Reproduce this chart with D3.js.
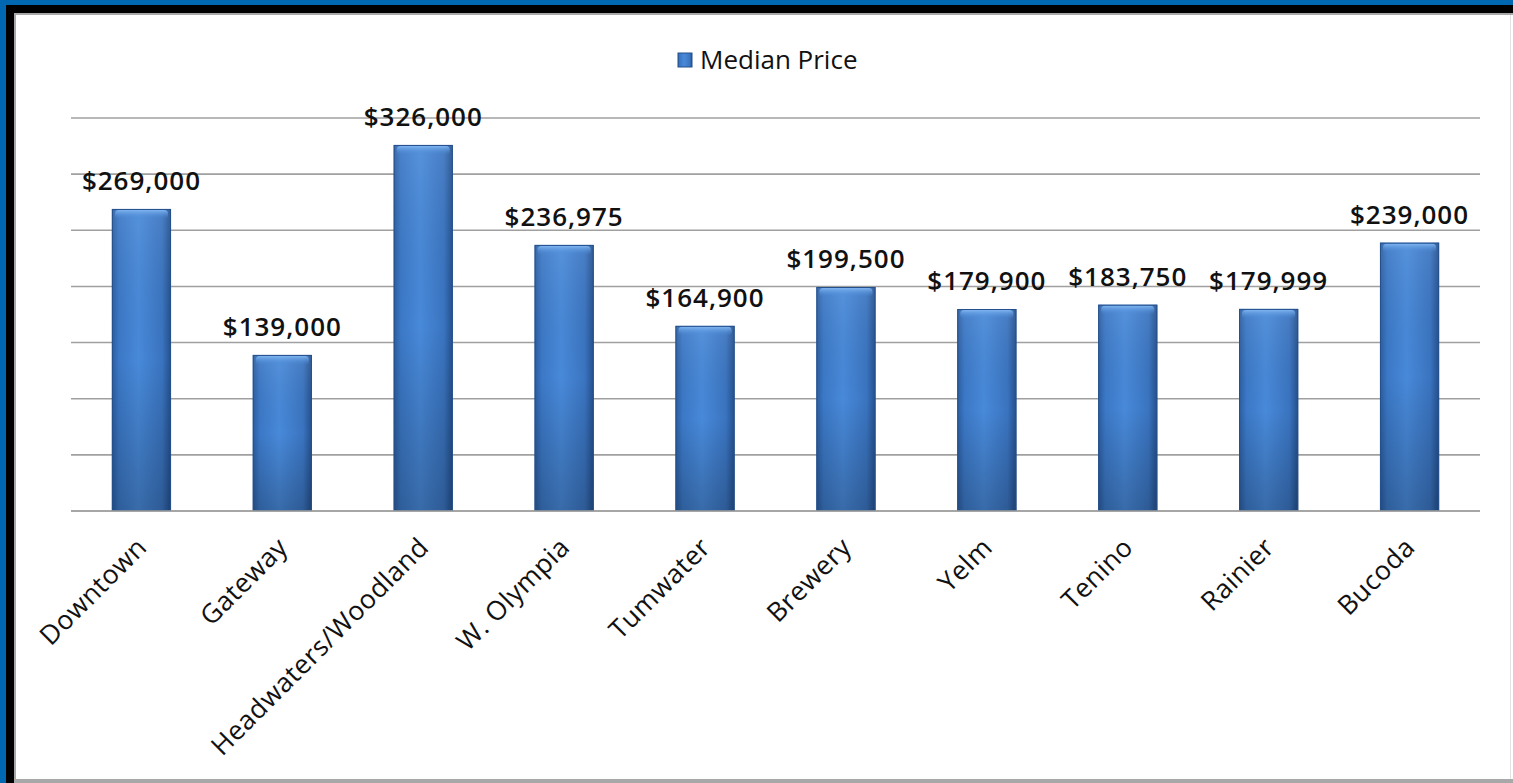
<!DOCTYPE html>
<html><head><meta charset="utf-8">
<script src="https://cdn.jsdelivr.net/npm/d3@7"></script>
<style>html,body{margin:0;padding:0;background:#fff;overflow:hidden}</style>
</head><body>
<svg id="c" width="1513" height="783"></svg>
<script>
const categories = ["Downtown","Gateway","Headwaters/Woodland","W. Olympia","Tumwater","Brewery","Yelm","Tenino","Rainier","Bucoda"];
const medianPrice = [269000,139000,326000,236975,164900,199500,179900,183750,179999,239000];
const seriesName = "Median Price";
const yTicks = [0,50000,100000,150000,200000,250000,300000,350000];

const svg = d3.select("#c");
const W = 1513, H = 783;
const font = "Open Sans, Lato, sans-serif";

// frame
svg.append("rect").attr("x",0).attr("y",0).attr("width",W).attr("height",H).attr("fill","#0067b1");
svg.append("rect").attr("x",6).attr("y",5).attr("width",W-6).attr("height",H-5).attr("fill","#000");
svg.append("rect").attr("x",14).attr("y",13).attr("width",W-14).attr("height",H-13).attr("fill","#a8a8a8");
svg.append("rect").attr("x",16).attr("y",15).attr("width",W-16).attr("height",H-19).attr("fill","#fff");
svg.append("line").attr("x1",1510.5).attr("x2",1510.5).attr("y1",15).attr("y2",H-4).attr("stroke","#e2e2e2").attr("stroke-width",1);

const defs = svg.append("defs");
const gh = defs.append("linearGradient").attr("id","gh").attr("x1","0").attr("x2","1").attr("y1","0").attr("y2","0");
[[0,"#2b5c9e"],[0.12,"#3b78c6"],[0.45,"#4889d9"],[0.85,"#3a74c0"],[1,"#244f8c"]].forEach(s=>gh.append("stop").attr("offset",s[0]).attr("stop-color",s[1]));
const gv = defs.append("linearGradient").attr("id","gv").attr("x1","0").attr("x2","0").attr("y1","0").attr("y2","1");
[[0,"#ffffff",0.08],[0.5,"#000000",0.0],[1,"#000000",0.22]].forEach(s=>gv.append("stop").attr("offset",s[0]).attr("stop-color",s[1]).attr("stop-opacity",s[2]));
const gt = defs.append("linearGradient").attr("id","gt").attr("x1","0").attr("x2","0").attr("y1","0").attr("y2","1");
[[0,"#7fb4ef",1],[1,"#4686d6",0]].forEach(s=>gt.append("stop").attr("offset",s[0]).attr("stop-color",s[1]).attr("stop-opacity",s[2]));

const x = d3.scaleBand().domain(categories).range([71,1480]).paddingInner(0.58).paddingOuter(0.29);
const y = d3.scaleLinear().domain([0,350000]).range([511,118]);

// gridlines
svg.append("g").selectAll("line").data(yTicks).join("line")
  .attr("x1",71).attr("x2",1480).attr("y1",d=>y(d)).attr("y2",d=>y(d))
  .attr("stroke","#a0a0a0").attr("stroke-width",1.6);

// bars
const bars = svg.append("g").selectAll("g").data(categories).join("g");
bars.append("rect").attr("x",d=>x(d)).attr("width",x.bandwidth())
  .attr("y",(d,i)=>y(medianPrice[i])).attr("height",(d,i)=>y(0)-y(medianPrice[i]))
  .attr("fill","url(#gh)");
bars.append("rect").attr("x",d=>x(d)).attr("width",x.bandwidth())
  .attr("y",(d,i)=>y(medianPrice[i])).attr("height",(d,i)=>y(0)-y(medianPrice[i]))
  .attr("fill","url(#gv)");
bars.append("rect").attr("x",d=>x(d)+3).attr("width",x.bandwidth()-6)
  .attr("y",(d,i)=>y(medianPrice[i])+1).attr("height",9).attr("rx",4)
  .attr("fill","url(#gt)");
bars.append("rect").attr("x",d=>x(d)+0.5).attr("width",x.bandwidth()-1)
  .attr("y",(d,i)=>y(medianPrice[i])+0.5).attr("height",(d,i)=>y(0)-y(medianPrice[i])-1)
  .attr("fill","none").attr("stroke","#25508c").attr("stroke-width",1);

// baseline
svg.append("line").attr("x1",71).attr("x2",1480).attr("y1",y(0)).attr("y2",y(0)).attr("stroke","#a0a0a0").attr("stroke-width",1.6);

// data labels
const fmt = d3.format("$,");
svg.append("g").selectAll("text").data(categories).join("text")
  .attr("x",d=>x(d)+x.bandwidth()/2).attr("y",(d,i)=>y(medianPrice[i])-19)
  .attr("text-anchor","middle").attr("font-family",font).attr("font-weight",600)
  .attr("font-size",26).attr("letter-spacing",1).attr("fill","#111")
  .text((d,i)=>fmt(medianPrice[i]));

// category labels
svg.append("g").selectAll("text").data(categories).join("text")
  .attr("transform",d=>`translate(${x(d)+x.bandwidth()/2+7},${y(0)+38}) rotate(-45)`)
  .attr("text-anchor","end").attr("font-family",font).attr("font-size",26.5).attr("letter-spacing",0.5).attr("fill","#111")
  .text(d=>d);

// legend
const lg = svg.append("g");
lg.append("rect").attr("x",678).attr("y",53).attr("width",14).attr("height",14).attr("fill","url(#gh)").attr("stroke","#25508c");
lg.append("text").attr("x",700).attr("y",69).attr("font-family",font).attr("font-size",26).attr("fill","#111").text(seriesName);
</script>
</body></html>
